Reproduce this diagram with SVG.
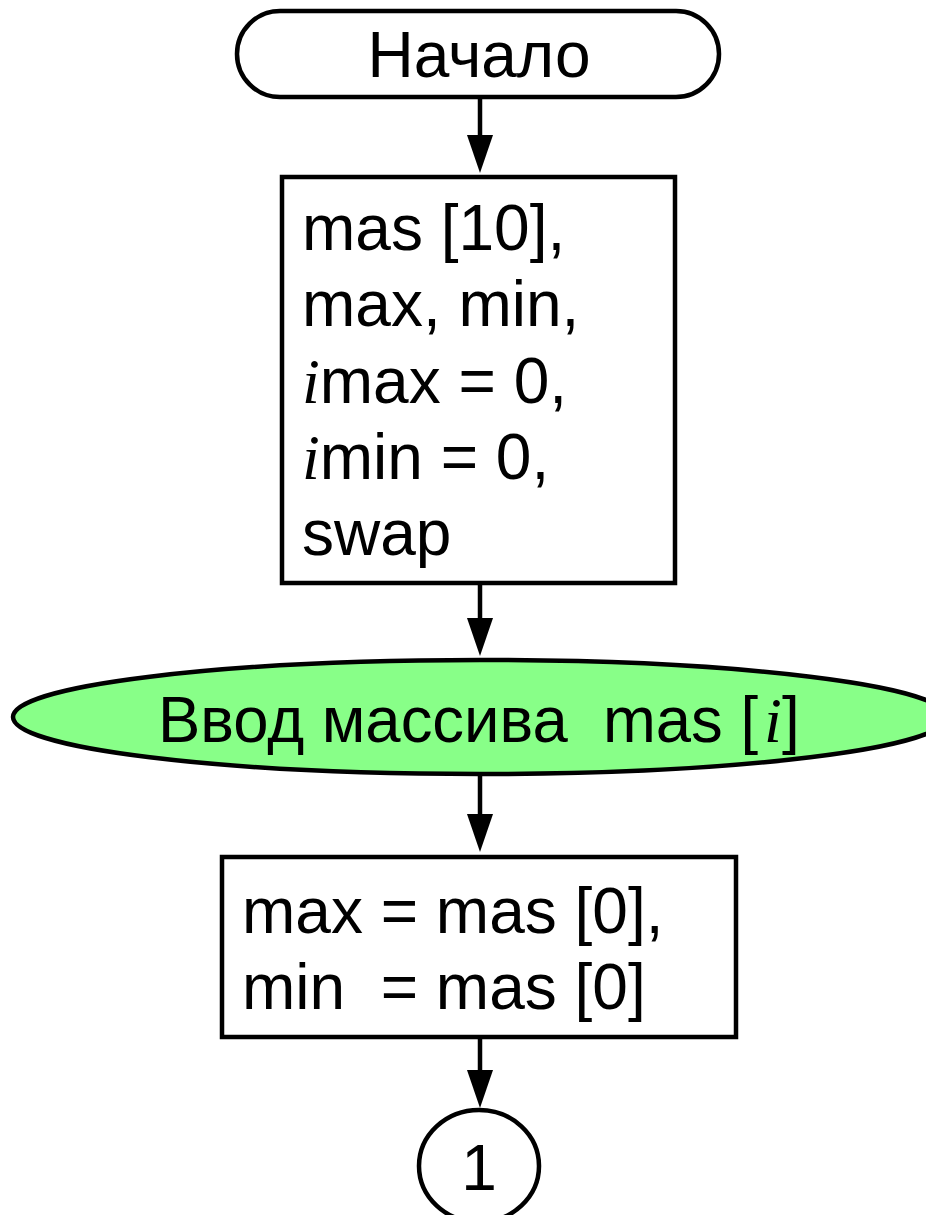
<svg xmlns="http://www.w3.org/2000/svg" width="926" height="1215" viewBox="0 0 926 1215">
<style>
.s{stroke:#000;stroke-width:4.5;fill:#fff}
.t{font-family:"Liberation Sans",Arial,sans-serif;font-size:64px;fill:#000}
.i{font-family:"Liberation Serif","Times New Roman",serif;font-style:italic}
.c{stroke:#000;stroke-width:4.5;fill:none}
</style>
<g id="connectors">
<line class="c" x1="480" y1="97" x2="480" y2="136"/>
<path d="M467,135 L493,135 L480,173 Z"/>
<line class="c" x1="480" y1="584" x2="480" y2="620"/>
<path d="M467,618 L493,618 L480,656 Z"/>
<line class="c" x1="480" y1="776" x2="480" y2="816"/>
<path d="M467,814 L493,814 L480,852 Z"/>
<line class="c" x1="480" y1="1038" x2="480" y2="1072"/>
<path d="M467,1070 L493,1070 L480,1108 Z"/>
</g>
<g id="start">
<rect class="s" x="237" y="11" width="482" height="86" rx="43" ry="43"/>
<text class="t" x="479" y="77" text-anchor="middle">Начало</text>
</g>
<g id="decl">
<rect class="s" x="282" y="177" width="393" height="406"/>
<text class="t" x="302" y="250">mas [10],</text>
<text class="t" x="302" y="326">max, min,</text>
<text class="t" x="302" y="403"><tspan class="i">i</tspan>max = 0,</text>
<text class="t" x="302" y="479"><tspan class="i">i</tspan>min = 0,</text>
<text class="t" x="302" y="555">swap</text>
</g>
<g id="input">
<ellipse cx="480" cy="717" rx="467" ry="57" stroke="#000" stroke-width="4.5" fill="#88ff88"/>
<text class="t" x="158" y="742" textLength="600" lengthAdjust="spacingAndGlyphs" xml:space="preserve">Ввод массива  mas [</text>
<text class="t i" x="764" y="742">i</text>
<text class="t" x="782" y="742">]</text>
</g>
<g id="assign">
<rect class="s" x="222" y="857" width="514" height="180"/>
<text class="t" x="242" y="933">max = mas [0],</text>
<text class="t" x="242" y="1009" xml:space="preserve">min  = mas [0]</text>
</g>
<g id="conn1">
<ellipse class="s" cx="479" cy="1166" rx="60" ry="56"/>
<text class="t" x="479" y="1190" text-anchor="middle">1</text>
</g>
</svg>
